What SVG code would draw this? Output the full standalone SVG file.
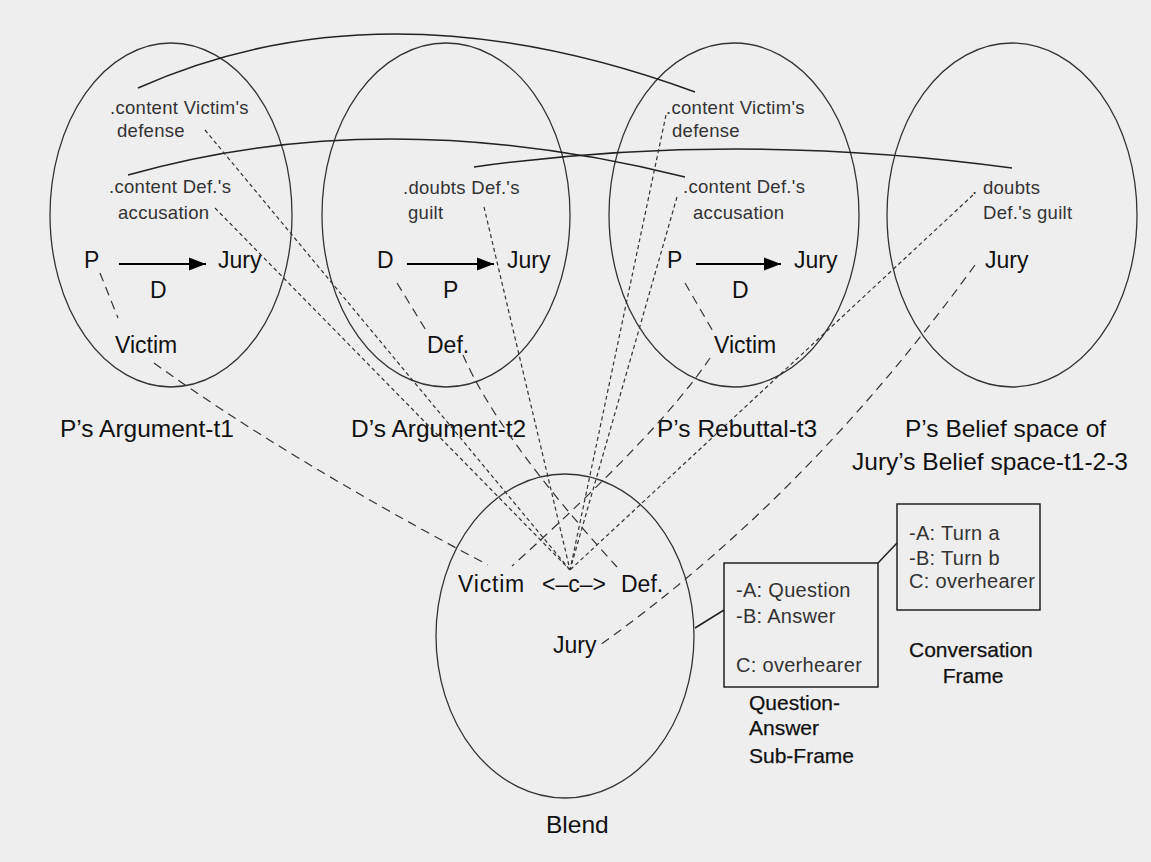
<svg xmlns="http://www.w3.org/2000/svg" width="1151" height="862" viewBox="0 0 1151 862">
  <defs>
    <style>
      .space { fill: none; stroke: #333; stroke-width: 1.3; }
      .note { font-family: "Liberation Sans", Arial, sans-serif; font-size: 18.5px; fill: #333; letter-spacing: 0.3px; }
      .el { font-family: "Liberation Sans", Arial, sans-serif; font-size: 23px; fill: #111; }
      .title { font-family: "Liberation Sans", Arial, sans-serif; font-size: 24.5px; fill: #111; }
      .frame-text { font-family: "Liberation Sans", Arial, sans-serif; font-size: 20px; fill: #333; letter-spacing: 0.3px; }
      .frame-label { font-family: "Liberation Sans", Arial, sans-serif; font-size: 21px; fill: #111; stroke: #111; stroke-width: 0.25; }
      .box { fill: none; stroke: #222; stroke-width: 1.5; }
      .link { fill: none; stroke: #222; stroke-width: 1.5; }
      .fine { fill: none; stroke: #333; stroke-width: 1.2; stroke-dasharray: 4 3; }
      .map { fill: none; stroke: #333; stroke-width: 1.2; stroke-dasharray: 9 6; }
      .arrow { stroke: #000; stroke-width: 2; }
    </style>
  </defs>

  <rect x="0" y="0" width="1151" height="862" fill="#eeeeee"/>

  <!-- Input space 1 -->
  <g id="space-p-argument-t1">
    <ellipse class="space" cx="171" cy="215" rx="121" ry="172"/>
    <text class="note" x="110" y="114">.content Victim's</text>
    <text class="note" x="117" y="137">defense</text>
    <text class="note" x="109" y="193">.content Def.'s</text>
    <text class="note" x="118" y="219">accusation</text>
    <text class="el" x="84" y="268">P</text>
    <line class="arrow" x1="119" y1="264" x2="206" y2="264"/>
    <path d="M189,257.5 L206,264 L189,270.5 Z" fill="#000"/>
    <text class="el" x="218" y="268">Jury</text>
    <text class="el" x="150" y="298">D</text>
    <text class="el" x="115" y="353">Victim</text>
    <text class="title" x="60" y="437">P’s Argument-t1</text>
  </g>

  <!-- Input space 2 -->
  <g id="space-d-argument-t2">
    <ellipse class="space" cx="446" cy="215" rx="124" ry="172"/>
    <text class="note" x="403" y="194">.doubts Def.'s</text>
    <text class="note" x="408" y="219">guilt</text>
    <text class="el" x="377" y="268">D</text>
    <line class="arrow" x1="407" y1="264" x2="494" y2="264"/>
    <path d="M477,257.5 L494,264 L477,270.5 Z" fill="#000"/>
    <text class="el" x="507" y="268">Jury</text>
    <text class="el" x="443" y="298">P</text>
    <text class="el" x="427" y="353">Def.</text>
    <text class="title" x="351" y="437">D’s Argument-t2</text>
  </g>

  <!-- Input space 3 -->
  <g id="space-p-rebuttal-t3">
    <ellipse class="space" cx="734" cy="215" rx="125" ry="172"/>
    <text class="note" x="666" y="114">.content Victim's</text>
    <text class="note" x="672" y="137">defense</text>
    <text class="note" x="683" y="193">.content Def.'s</text>
    <text class="note" x="693" y="219">accusation</text>
    <text class="el" x="667" y="268">P</text>
    <line class="arrow" x1="696" y1="264" x2="781" y2="264"/>
    <path d="M764,257.5 L781,264 L764,270.5 Z" fill="#000"/>
    <text class="el" x="794" y="268">Jury</text>
    <text class="el" x="732" y="298">D</text>
    <text class="el" x="714" y="353">Victim</text>
    <text class="title" x="657" y="437">P’s Rebuttal-t3</text>
  </g>

  <!-- Input space 4 -->
  <g id="space-belief">
    <ellipse class="space" cx="1012" cy="215" rx="125" ry="172"/>
    <text class="note" x="972" y="194">. doubts</text>
    <text class="note" x="983" y="219">Def.'s guilt</text>
    <text class="el" x="985" y="268">Jury</text>
    <text class="title" x="905" y="437">P’s Belief space of</text>
    <text class="title" x="852" y="470">Jury’s Belief space-t1-2-3</text>
  </g>

  <!-- Blended space -->
  <g id="blend">
    <ellipse class="space" cx="565" cy="636" rx="129" ry="162"/>
    <text class="el" x="458" y="592" letter-spacing="0.8">Victim</text>
    <text class="el" x="542" y="592">&lt;–c–&gt;</text>
    <text class="el" x="621" y="592">Def.</text>
    <text class="el" x="553" y="653">Jury</text>
    <text class="title" x="546" y="833">Blend</text>
  </g>

  <!-- Question-Answer sub-frame -->
  <g id="qa-subframe">
    <rect class="box" x="724" y="563" width="154" height="124"/>
    <text class="frame-text" x="736" y="597">-A: Question</text>
    <text class="frame-text" x="736" y="623">-B: Answer</text>
    <text class="frame-text" x="736" y="672">C: overhearer</text>
    <text class="frame-label" x="749" y="710">Question-</text>
    <text class="frame-label" x="749" y="735">Answer</text>
    <text class="frame-label" x="749" y="763">Sub-Frame</text>
  </g>

  <!-- Conversation frame -->
  <g id="conversation-frame">
    <rect class="box" x="897" y="504" width="143" height="106"/>
    <text class="frame-text" x="909" y="540">-A: Turn a</text>
    <text class="frame-text" x="909" y="565">-B: Turn b</text>
    <text class="frame-text" x="909" y="588">C: overhearer</text>
    <text class="frame-label" x="909" y="657">Conversation</text>
    <text class="frame-label" x="973" y="683" text-anchor="middle">Frame</text>
  </g>

  <g id="connectors">
    <!-- cross-space links between corresponding contents -->
    <path class="link" d="M138,88 Q384,-22 695,92"/>
    <path class="link" d="M128,175 Q384,102 685,177"/>
    <path class="link" d="M474,167 Q737,130.5 1012,168"/>

    <!-- frame links -->
    <line class="link" x1="695" y1="628" x2="724" y2="610"/>
    <line class="link" x1="878" y1="563" x2="897" y2="543"/>

    <!-- role links inside spaces -->
    <line class="map" x1="100" y1="273" x2="118" y2="318"/>
    <line class="map" x1="397" y1="283" x2="427" y2="332"/>
    <line class="map" x1="685" y1="283" x2="714" y2="333"/>

    <!-- element projections into the blend -->
    <path class="map" d="M154,363 Q286,458 488,565"/>
    <path class="map" d="M463,355 Q498.5,436.6 617,567"/>
    <path class="map" d="M710,358 Q660,432.5 512,566"/>
    <path class="map" d="M975,265 Q805,499 600,645"/>

    <!-- content projections converging on the counterpart relation -->
    <line class="fine" x1="205" y1="130" x2="570" y2="570"/>
    <line class="fine" x1="215" y1="208" x2="570" y2="570"/>
    <line class="fine" x1="484" y1="207" x2="570" y2="570"/>
    <line class="fine" x1="666" y1="115" x2="570" y2="570"/>
    <line class="fine" x1="677" y1="197" x2="570" y2="570"/>
    <line class="fine" x1="973" y1="195" x2="570" y2="570"/>
  </g>
</svg>
